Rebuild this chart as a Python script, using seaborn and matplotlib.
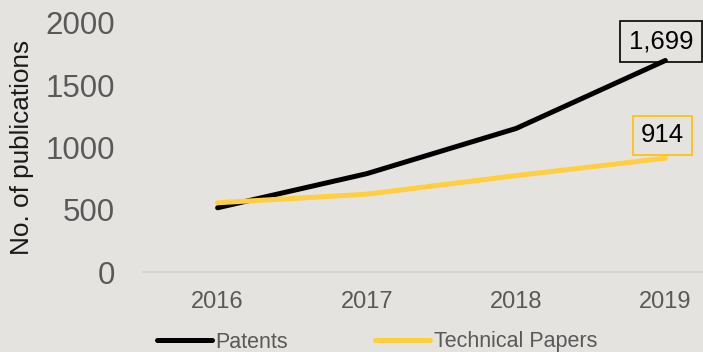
import matplotlib
matplotlib.use("Agg")
import matplotlib.pyplot as plt
import seaborn as sns
import pandas as pd

years = ["2016", "2017", "2018", "2019"]
patents = [516, 790, 1153, 1699]
papers = [556, 625, 774, 914]
series_names = ["Patents", "Technical Papers"]
yticks = [0, 500, 1000, 1500, 2000]

df = pd.DataFrame({
    "Year": years * 2,
    "Count": patents + papers,
    "Series": [series_names[0]] * 4 + [series_names[1]] * 4,
})

sns.set_theme(style="white")
plt.rcParams["font.family"] = ["Liberation Sans", "DejaVu Sans"]

bg = "#e4e3df"
black = "#000000"
yellow = "#ffcf40"
tick_gray = "#595959"

fig = plt.figure(figsize=(7.03, 3.52), dpi=100, facecolor=bg)
ax = fig.add_axes([143 / 703, 1 - 272 / 352, 597 / 703, (272 - 23) / 352])
ax.set_facecolor(bg)

sns.lineplot(data=df, x="Year", y="Count", hue="Series", sort=False,
             palette={series_names[0]: black, series_names[1]: yellow},
             linewidth=3.6, ax=ax, legend=True)
for ln in ax.lines:
    ln.set_solid_capstyle("round")
    ln.set_clip_on(False)

ax.set_xlim(-0.5, 3.5)
ax.set_ylim(0, 2000)
ax.set_yticks(yticks)
ax.set_yticklabels([str(v) for v in yticks])
for s in ["top", "right", "left"]:
    ax.spines[s].set_visible(False)
ax.spines["bottom"].set_color("#d6d5d2")
ax.spines["bottom"].set_linewidth(1.3)
ax.tick_params(axis="y", labelsize=22.5, colors=tick_gray, length=0, pad=20)
ax.tick_params(axis="x", labelsize=17, colors=tick_gray, length=0, pad=14)
ax.set_xlabel("")
ax.set_ylabel("No. of publications", fontsize=18.8, color="#1a1a1a")
ax.yaxis.set_label_coords((34 - 143) / 597, 0.5 + (148 - 147.5) / 249)

# end-value annotations
ax.annotate(f"{patents[-1]:,}", xy=(3, patents[-1]), xytext=(-3, 14),
            textcoords="offset points", ha="center", va="center",
            fontsize=18.5, color="#000000",
            bbox=dict(boxstyle="square,pad=0.33", fc="none", ec=black, lw=1.2),
            annotation_clip=False)
ax.annotate(f"{papers[-1]:,}", xy=(3, papers[-1]), xytext=(-2, 16.5),
            textcoords="offset points", ha="center", va="center",
            fontsize=18.5, color="#000000",
            bbox=dict(boxstyle="square,pad=0.3", fc="none", ec="#ffc000", lw=1.2),
            annotation_clip=False)

handles, labels = ax.get_legend_handles_labels()
ax.get_legend().remove()
leg = fig.legend(handles, labels, loc="center",
                 bbox_to_anchor=(377 / 703, 1 - 342 / 352), ncol=2,
                 frameon=False, fontsize=15.5, handlelength=2.56,
                 handletextpad=0.15, columnspacing=4.05, borderpad=0,
                 borderaxespad=0)
for t in leg.get_texts():
    t.set_color(tick_gray)
for h in leg.get_lines():
    h.set_linewidth(3.6)
    h.set_solid_capstyle("round")

fig.savefig("out.png", dpi=100, facecolor=bg)
